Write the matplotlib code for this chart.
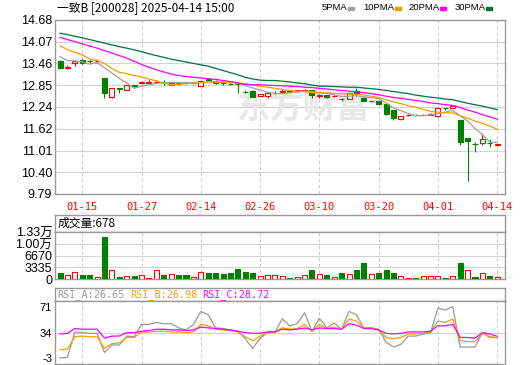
import numpy as np
import matplotlib
matplotlib.use("Agg")
import matplotlib.pyplot as plt
from matplotlib.patches import Rectangle

plt.rcParams['font.family'] = ['Liberation Sans', 'Noto Sans CJK SC']

# 交易日
dates = ["01-10", "01-13", "01-14", "01-15", "01-16", "01-17", "01-20", "01-21", "01-22", "01-23",
         "01-24", "01-27", "02-05", "02-06", "02-07", "02-10", "02-11", "02-12", "02-13", "02-14",
         "02-17", "02-18", "02-19", "02-20", "02-21", "02-24", "02-25", "02-26", "02-27", "02-28",
         "03-03", "03-04", "03-05", "03-06", "03-07", "03-10", "03-11", "03-12", "03-13", "03-14",
         "03-17", "03-18", "03-19", "03-20", "03-21", "03-24", "03-25", "03-26", "03-27", "03-28",
         "03-31", "04-01", "04-02", "04-03", "04-07", "04-08", "04-09", "04-10", "04-11", "04-14"]

opens = [13.53, 13.33, 13.46, 13.55, 13.54, 13.52, 13.05, 12.52, 12.77, 12.71,
         12.84, 12.91, 12.92, 12.94, 12.95, 12.86, 12.91, 12.93, 12.91, 12.83,
         13.01, 12.97, 12.91, 12.89, 12.89, 12.67, 12.69, 12.55, 12.55, 12.63,
         12.66, 12.68, 12.68, 12.69, 12.71, 12.54, 12.57, 12.54, 12.47, 12.46,
         12.68, 12.50, 12.39, 12.40, 12.33, 12.15, 11.91, 12.00, 12.02, 12.01,
         12.01, 11.97, 12.21, 12.20, 11.87, 11.36, 11.20, 11.21, 11.22, 11.16]
highs = [13.55, 13.42, 13.56, 13.57, 13.56, 13.57, 13.06, 12.77, 12.78, 12.86,
         12.86, 12.97, 12.98, 12.99, 12.99, 12.92, 12.93, 12.94, 12.94, 12.98,
         13.04, 12.98, 12.93, 12.92, 12.90, 12.72, 12.70, 12.60, 12.64, 12.68,
         12.74, 12.71, 12.72, 12.74, 12.72, 12.59, 12.58, 12.58, 12.48, 12.63,
         12.78, 12.51, 12.43, 12.41, 12.34, 12.16, 11.99, 12.04, 12.03, 12.05,
         12.07, 12.21, 12.22, 12.27, 11.88, 11.37, 11.26, 11.50, 11.33, 11.20]
lows = [13.30, 13.29, 13.40, 13.44, 13.46, 13.47, 12.50, 12.50, 12.62, 12.70,
        12.79, 12.87, 12.88, 12.90, 12.84, 12.84, 12.85, 12.89, 12.89, 12.82,
        12.97, 12.88, 12.86, 12.85, 12.64, 12.62, 12.51, 12.54, 12.50, 12.61,
        12.63, 12.63, 12.66, 12.66, 12.50, 12.48, 12.49, 12.52, 12.40, 12.45,
        12.55, 12.39, 12.37, 12.30, 12.02, 11.87, 11.87, 11.99, 12.00, 12.00,
        12.00, 11.96, 12.15, 12.20, 11.17, 10.16, 10.98, 11.17, 11.12, 11.15]
closes = [13.32, 13.35, 13.53, 13.48, 13.52, 13.53, 12.64, 12.76, 12.75, 12.85,
          12.82, 12.93, 12.94, 12.95, 12.93, 12.90, 12.90, 12.92, 12.92, 12.97,
          12.99, 12.90, 12.90, 12.88, 12.87, 12.66, 12.53, 12.59, 12.62, 12.64,
          12.68, 12.67, 12.70, 12.71, 12.57, 12.56, 12.51, 12.55, 12.46, 12.62,
          12.59, 12.40, 12.41, 12.31, 12.03, 11.92, 11.98, 12.01, 12.01, 12.02,
          12.03, 12.20, 12.20, 12.25, 11.26, 11.27, 11.19, 11.33, 11.21, 11.19]

ma5 = [13.65, 13.54, 13.53, 13.50, 13.44, 13.48, 13.34, 13.19, 13.04, 12.91,
       12.76, 12.82, 12.86, 12.90, 12.91, 12.93, 12.92, 12.92, 12.91, 12.92,
       12.94, 12.94, 12.94, 12.93, 12.91, 12.84, 12.77, 12.71, 12.65, 12.61,
       12.61, 12.64, 12.66, 12.68, 12.67, 12.64, 12.61, 12.58, 12.53, 12.54,
       12.55, 12.52, 12.50, 12.47, 12.35, 12.21, 12.13, 12.05, 11.99, 11.99,
       12.01, 12.05, 12.09, 12.14, 11.99, 11.84, 11.63, 11.46, 11.25, 11.24]
ma10 = [13.95, 13.85, 13.77, 13.70, 13.58, 13.54, 13.46, 13.32, 13.21, 13.17,
        13.12, 13.08, 13.02, 12.97, 12.91, 12.85, 12.87, 12.89, 12.91, 12.92,
        12.94, 12.93, 12.93, 12.92, 12.92, 12.89, 12.85, 12.82, 12.79, 12.76,
        12.73, 12.70, 12.68, 12.67, 12.64, 12.63, 12.63, 12.62, 12.61, 12.60,
        12.59, 12.57, 12.54, 12.50, 12.44, 12.38, 12.33, 12.27, 12.23, 12.17,
        12.11, 12.09, 12.07, 12.07, 11.99, 11.92, 11.84, 11.78, 11.70, 11.61]
ma20 = [14.19, 14.13, 14.07, 14.01, 13.95, 13.89, 13.82, 13.75, 13.68, 13.61,
        13.52, 13.43, 13.35, 13.28, 13.22, 13.16, 13.12, 13.09, 13.07, 13.05,
        13.03, 13.01, 12.98, 12.95, 12.91, 12.87, 12.86, 12.86, 12.85, 12.84,
        12.83, 12.82, 12.81, 12.79, 12.78, 12.76, 12.74, 12.72, 12.70, 12.68,
        12.66, 12.64, 12.61, 12.58, 12.54, 12.50, 12.48, 12.45, 12.42, 12.39,
        12.35, 12.33, 12.30, 12.28, 12.22, 12.15, 12.09, 12.02, 11.96, 11.89]
ma30 = [14.31, 14.27, 14.22, 14.18, 14.13, 14.08, 14.03, 13.98, 13.93, 13.89,
        13.84, 13.79, 13.73, 13.68, 13.63, 13.58, 13.54, 13.50, 13.46, 13.42,
        13.38, 13.32, 13.26, 13.20, 13.14, 13.07, 13.02, 12.99, 12.98, 12.98,
        12.96, 12.94, 12.91, 12.89, 12.85, 12.82, 12.82, 12.81, 12.80, 12.79,
        12.79, 12.77, 12.75, 12.73, 12.70, 12.67, 12.64, 12.61, 12.57, 12.54,
        12.51, 12.49, 12.46, 12.44, 12.39, 12.34, 12.30, 12.26, 12.21, 12.16]

volumes = [1800, 1050, 2000, 1230, 1230, 660, 12020, 2560, 570, 850,
           950, 1050, 380, 2560, 1230, 1420, 1230, 1230, 470, 2000,
           1700, 1700, 1420, 1610, 2840, 2000, 1700, 850, 1140, 1140,
           850, 380, 570, 1050, 2560, 1420, 1140, 570, 1800, 1420,
           2560, 4640, 1420, 1800, 2560, 1800, 850, 380, 380, 850,
           850, 850, 380, 850, 4640, 2560, 660, 1700, 850, 678]
# 1 = 红(涨), 0 = 绿(跌)
vol_up = [0, 1, 1, 0, 0, 1, 0, 1, 0, 1,
          0, 1, 1, 1, 0, 1, 0, 0, 1, 1,
          0, 0, 0, 0, 0, 0, 0, 1, 1, 1,
          1, 0, 1, 1, 0, 1, 0, 1, 0, 1,
          0, 0, 1, 0, 0, 0, 1, 1, 0, 1,
          1, 1, 0, 1, 0, 1, 0, 1, 0, 1]

rsi_a = [-3, -2, 35, 34, 33, 33, 5, 16, 16, 29,
         28, 46, 46, 49, 47, 47, 41, 38, 46, 65,
         60, 41, 40, 38, 36, 25, 11, 26, 34, 35,
         54, 44, 47, 63, 36, 55, 41, 48, 39, 65,
         60, 41, 41, 39, 20, 13, 17, 29, 29, 32,
         34, 70, 67, 72, 13, 13, 13, 34, 27, 26.65]
rsi_b = [9, 10, 28, 29, 28, 28, 11, 18, 19, 27,
         27, 35, 35, 36, 36, 35, 35, 34, 35, 46,
         44, 39, 38, 37, 35, 28, 22, 29, 34, 35,
         41, 39, 40, 46, 36, 46, 40, 42, 39, 54,
         51, 41, 41, 38, 27, 25, 27, 32, 32, 33,
         35, 51, 49, 54, 22, 21, 21, 33, 28, 26.98]
rsi_c = [32, 33, 40, 39, 39, 39, 26, 29, 29, 34,
         34, 36, 37, 39, 39, 38, 38, 37, 38, 42,
         41, 40, 39, 38, 36, 34, 33, 33, 35, 35,
         39, 38, 39, 41, 38, 41, 40, 40, 39, 47,
         45, 40, 40, 38, 33, 32, 33, 35, 35, 35,
         36, 44, 44, 46, 27, 27, 26, 34, 32, 28.72]

price_ticks = [9.79, 10.40, 11.01, 11.62, 12.24, 12.85, 13.46, 14.07, 14.68]
vol_ticks = [0, 3335, 6670, 10005, 13340]
vol_labels = ["0", "3335", "6670", "1.00万", "1.33万"]
rsi_ticks = [-3, 34, 71]
label_dates = ["01-15", "01-27", "02-14", "02-26", "03-10", "03-20", "04-01", "04-14"]

RED = "#ff0000"
GREEN = "#008000"
BORDER = "#999999"
GRID = "#d3d3d3"

x = np.arange(len(dates))
tick_pos = [dates.index(d) for d in label_dates]
o = np.array(opens); c = np.array(closes)

W, H = 520, 365
fig = plt.figure(figsize=(W / 100, H / 100), dpi=100)


def box(top, bottom, left=55, right=505):
    return [left / W, 1 - bottom / H, (right - left) / W, (bottom - top) / H]


def frame(a):
    for s in a.spines.values():
        s.set_color(BORDER)
        s.set_linewidth(1.0)
    a.set_xlim(-0.68, 60.05)
    a.tick_params(length=0)


def vgrid(a):
    for p in tick_pos:
        a.axvline(p, color="#cccccc", lw=0.8, dashes=(3, 2.5), zorder=0)


ax = fig.add_axes(box(20, 194))
axvh = fig.add_axes(box(215, 232.3))
axv = fig.add_axes(box(232.3, 279))
axrh = fig.add_axes(box(288.3, 300.7))
axr = fig.add_axes(box(300.7, 363.5))
for a in (ax, axvh, axv, axrh, axr):
    frame(a)
for a in (axvh, axrh):
    a.set_xticks([]); a.set_yticks([])

# 主图
ax.set_ylim(9.79, 14.68)
ax.set_yticks(price_ticks)
ax.set_yticklabels([f"{v:.2f}" for v in price_ticks], fontsize=9)
for v in price_ticks[1:-1]:
    ax.axhline(v, color=GRID, lw=0.8, zorder=0)
vgrid(ax)
ax.set_xticks(tick_pos)
ax.set_xticklabels(label_dates, color=RED, fontsize=7.5, family="DejaVu Sans Mono")
ax.tick_params(axis="x", pad=6)
ax.tick_params(axis="y", pad=2)

ax.text(0.55, 0.49, "东方财富", transform=ax.transAxes, ha="center", va="center",
        fontsize=24, fontweight="bold", color="#e8e8e8", family="Noto Sans CJK SC", zorder=0)

up = c >= o
ccol = np.where(up, RED, GREEN)
ax.vlines(x, lows, highs, colors=ccol, lw=0.8, zorder=2)
ax.bar(x, np.abs(c - o), bottom=np.minimum(o, c), width=0.68,
       color=np.where(up, "white", GREEN), edgecolor=ccol, lw=0.8, zorder=3)

ax.plot(x, ma5, color="#a0a0a0", lw=0.9, zorder=4)
ax.plot(x, ma10, color="#f0a000", lw=0.9, zorder=4)
ax.plot(x, ma20, color="#ff00ff", lw=0.9, zorder=4)
ax.plot(x, ma30, color="#007040", lw=0.9, zorder=4)

fig.text(57 / W, 1 - 8 / H, "一致B [200028] 2025-04-14 15:00", fontsize=8.5,
         family="Noto Sans CJK SC", va="center", ha="left")
legend = [("5PMA", "#a0a0a0", 322, 348), ("10PMA", "#f0a000", 363, 395),
          ("20PMA", "#ff00ff", 408, 440), ("30PMA", "#007040", 455, 486)]
for name, col, tx, rx in legend:
    fig.text(tx / W, 1 - 8 / H, name, fontsize=6.8, va="center", ha="left")
    fig.add_artist(Rectangle((rx / W, 1 - 9.5 / H), 6 / W, 3 / H,
                             transform=fig.transFigure, color=col))

# 成交量
axvh.text(3 / 450, 0.5, "成交量:678", transform=axvh.transAxes, fontsize=8.5,
          family="Noto Sans CJK SC", va="center", ha="left")
axv.set_ylim(0, 13340)
axv.set_yticks(vol_ticks)
axv.set_yticklabels(vol_labels, fontsize=9)
axv.tick_params(axis="y", pad=2)
axv.set_xticks([])
for v in vol_ticks[1:-1]:
    axv.axhline(v, color=GRID, lw=0.8, zorder=0)
vgrid(axv)
vu = np.array(vol_up) == 1
vcol = np.where(vu, RED, GREEN)
axv.bar(x, volumes, width=0.68, color=np.where(vu, "white", GREEN),
        edgecolor=vcol, lw=0.8, zorder=3)

# RSI
hdr = [("RSI_A:26.65", "#999999", 57), ("RSI_B:26.98", "#f0a000", 130),
       ("RSI_C:28.72", "#ff00ff", 202)]
for name, col, tx in hdr:
    fig.text(tx / W, 1 - 294.5 / H, name, fontsize=7.3, color=col,
             family="DejaVu Sans Mono", va="center", ha="left")
axr.set_ylim(-11.0, 80.6)
axr.set_yticks(rsi_ticks)
axr.set_yticklabels([str(v) for v in rsi_ticks], fontsize=8)
axr.tick_params(axis="y", pad=2)
axr.set_xticks([])
axr.axhline(34, color=GRID, lw=0.8, zorder=0)
vgrid(axr)
axr.plot(x, rsi_a, color="#999999", lw=0.9)
axr.plot(x, rsi_b, color="#f0a000", lw=0.9)
axr.plot(x, rsi_c, color="#ff00ff", lw=0.9)

fig.savefig("out.png", dpi=100)
